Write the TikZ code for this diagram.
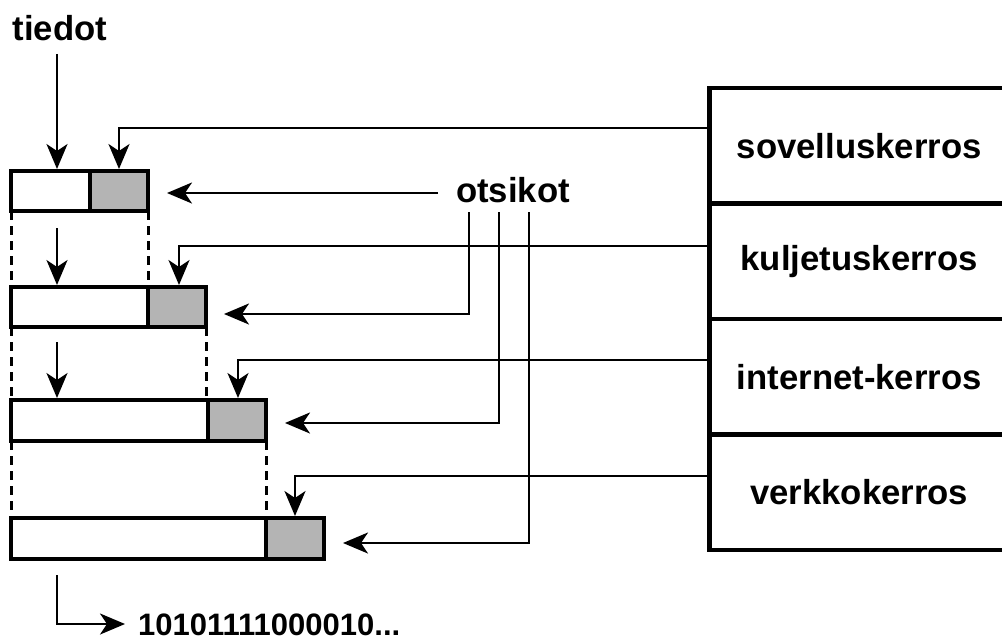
\documentclass[tikz,border=0pt]{standalone}
\usepackage{fontspec}
\setmainfont{Liberation Sans}
\usetikzlibrary{arrows.meta}
\definecolor{hdrgray}{RGB}{180,180,180}
\begin{document}
\begin{tikzpicture}[x=1pt,y=-1pt,
 lbl/.style={font=\fontsize{34.7}{40}\selectfont\bfseries, inner sep=0pt},
 arr/.style={line width=2.5pt, -{Stealth[length=25pt,width=21pt,inset=7pt]}},
 dat/.style={draw, line width=4.5pt, fill=white, anchor=north west, inner sep=0pt, outer sep=0pt},
 hdr/.style={dat, fill=hdrgray, minimum width=58pt},
 dsh/.style={line width=3pt, dash pattern=on 9pt off 6pt},
 layer/.style={lbl, draw, line width=4.5pt, anchor=west, minimum width=300pt, minimum height=115.5pt}]
\useasboundingbox (0,0) rectangle (1002,641);

% right layer stack
\node[layer] (L1) at (707,145.75) {sovelluskerros};
\node[layer] (L2) at (707,261.25) {kuljetuskerros};
\node[layer] (L3) at (707,376.75) {internet-kerros};
\node[layer] (L4) at (707,492.25) {verkkokerros};

% packets
\node[dat, minimum width=79pt,  minimum height=40pt] (d1) at (11,171) {};
\node[hdr, minimum height=40pt] (h1) at (d1.north east) {};
\node[dat, minimum width=137pt, minimum height=40pt] (d2) at (11,287) {};
\node[hdr, minimum height=40pt] (h2) at (d2.north east) {};
\node[dat, minimum width=197pt, minimum height=41pt] (d3) at (11,400) {};
\node[hdr, minimum height=41pt] (h3) at (d3.north east) {};
\node[dat, minimum width=255pt, minimum height=41pt] (d4) at (11,518) {};
\node[hdr, minimum height=41pt] (h4) at (d4.north east) {};

% labels
\node[lbl] (tied) at (60,28) {tiedot};
\node[lbl] (o) at (513,190) {otsikot};
\node[font=\fontsize{31}{36}\selectfont\bfseries, inner sep=0pt, anchor=west] (bits) at (138,625) {10101111000010...};

% dashed guides
\draw[dsh] (d1.south west) -- (d2.north west);
\draw[dsh] (h1.south east) -- (h1.south east |- d2.north);
\draw[dsh] (d2.south west) -- (d3.north west);
\draw[dsh] (h2.south east) -- (h2.south east |- d3.north);
\draw[dsh] (d3.south west) -- (d4.north west);
\draw[dsh] (h3.south east) -- (h3.south east |- d4.north);

% data arrows
\draw[arr, shorten >=2pt] ([xshift=-3pt,yshift=-13pt]tied.south) -- ([xshift=-3pt]tied.south |- d1.north);
\draw[arr, shorten >=2pt] ([xshift=46pt,yshift=-17pt]d1.south west) -- ([xshift=46pt]d2.north west);
\draw[arr, shorten >=2pt] ([xshift=46pt,yshift=-15pt]d2.south west) -- ([xshift=46pt]d3.north west);
\draw[arr] ([xshift=46pt,yshift=-16pt]d4.south west) |- ([xshift=-13pt,yshift=1pt]bits.west);

% layer connectors
\draw[arr, shorten >=2pt] ([yshift=17.75pt]L1.west) -| (h1.north);
\draw[arr, shorten >=2pt] ([yshift=15.25pt]L2.west) -| ([xshift=2pt]h2.north);
\draw[arr, shorten >=2pt] ([yshift=16.75pt]L3.west) -| ([xshift=1pt]h3.north);
\draw[arr, shorten >=2pt] ([yshift=16.25pt]L4.west) -| (h4.north);

% otsikot connectors
\coordinate (s0) at (438,193);
\coordinate (v1) at (469,212);
\coordinate (v2) at (499,212);
\coordinate (v3) at (529,212);
\draw[arr, shorten >=19pt] (s0) -- (s0 -| h1.east);
\draw[arr, shorten >=18pt] (v1) |- ([yshift=-7pt]h2.east);
\draw[arr, shorten >=19pt] (v2) |- ([yshift=-2.5pt]h3.east);
\draw[arr, shorten >=19pt] (v3) |- ([yshift=-4.5pt]h4.east);
\end{tikzpicture}
\end{document}
